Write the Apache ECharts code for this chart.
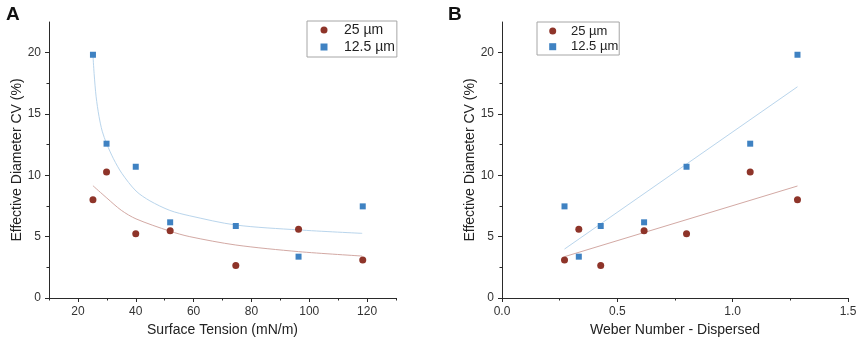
<!DOCTYPE html>
<html>
<head>
<meta charset="utf-8">
<script src="https://cdn.jsdelivr.net/npm/echarts@6/dist/echarts.min.js"></script>
<style>
html,body{margin:0;padding:0;background:#fff;}
#chart{width:858px;height:343px;}
</style>
</head>
<body>
<div id="chart"></div>
<script>
// ---- data ----
var seriesNames = ['25 µm', '12.5 µm'];
var surfaceTension = [25.2, 29.9, 40.0, 51.9, 74.6, 96.3, 118.5];
var weberDispersed = [1.281, 1.076, 0.80, 0.616, 0.428, 0.333, 0.271];
var cv25 = [8.0, 10.27, 5.24, 5.49, 2.64, 5.6, 3.1];
var cv125 = [19.83, 12.58, 10.7, 6.17, 5.87, 3.37, 7.47];

// fitted curves (panel A)
var fitA125X = [25.2, 25.6, 26.3, 27.3, 28.4, 29.9, 32.3, 35.2, 40.1, 44.9, 51.8, 58.7, 74.6, 96.3, 118.3];
var fitA125Y = [19.8, 18.3, 16.4, 14.8, 13.6, 12.6, 11.35, 10.16, 8.72, 7.92, 7.14, 6.7, 5.95, 5.55, 5.27];
var fitA25X = [25.2, 30.0, 35.0, 40.1, 51.8, 58.7, 74.6, 96.3, 118.3];
var fitA25Y = [9.15, 8.15, 7.15, 6.45, 5.45, 5.0, 4.32, 3.78, 3.42];
// fitted lines (panel B)
var fitBX = [0.271, 1.281];
var fitB125Y = [3.99, 17.22];
var fitB25Y = [3.37, 9.13];

// axis ticks / labels
var xALabels = [20, 40, 60, 80, 100, 120];
var yLabels = [0, 5, 10, 15, 20];

var xATitle = 'Surface Tension (mN/m)';
var xBTitle = 'Weber Number - Dispersed';
var yTitle = 'Effective Diameter CV (%)';

function zip(a, b) { return a.map(function (v, i) { return [v, b[i]]; }); }

var FONT = 'Liberation Sans, Arial, sans-serif';
var AX = '#2a2a2a';
var LBL = '#333';
var RED = '#8e3429';
var BLUE = '#3f82c2';
var RED_L = '#d3a9a4';
var BLUE_L = '#b9d5ec';

var nameStyle = { fontFamily: FONT, fontSize: 14, color: '#222' };
var lblStyle = { margin: 8, fontFamily: FONT, fontSize: 12, color: LBL };

function axLine() { return { show: true, onZero: false, lineStyle: { color: AX, width: 1 } }; }

var option = {
  backgroundColor: '#fff',
  animation: false,
  title: [
    { text: 'A', left: 1, top: 0, textStyle: { fontFamily: FONT, fontSize: 19, fontWeight: 'bold', color: '#111' } },
    { text: 'B', left: 443, top: 0, textStyle: { fontFamily: FONT, fontSize: 19, fontWeight: 'bold', color: '#111' } }
  ],
  grid: [
    { left: 49, right: 462, top: 22, bottom: 45, containLabel: false, outerBoundsMode: 'none' },
    { left: 502, right: 10, top: 22, bottom: 45, containLabel: false, outerBoundsMode: 'none' }
  ],
  xAxis: [
    {
      // scale ticks at 10,30,...,130 act as minor ticks; minor ticks at 20,40,... act as major
      type: 'value', gridIndex: 0, min: 10, max: 130, interval: 20, position: 'bottom',
      name: xATitle, nameLocation: 'middle', nameGap: 22, nameTextStyle: nameStyle,
      axisLine: axLine(),
      axisTick: { show: true, inside: false, length: 2.5, lineStyle: { color: AX } },
      minorTick: { show: true, splitNumber: 2, length: 4, lineStyle: { color: AX, width: 1 } },
      axisLabel: Object.assign({ show: true, customValues: xALabels }, lblStyle),
      splitLine: { show: false }, minorSplitLine: { show: false }
    },
    {
      type: 'value', gridIndex: 1, min: 0, max: 1.5, interval: 0.5, position: 'bottom',
      name: xBTitle, nameLocation: 'middle', nameGap: 22, nameTextStyle: nameStyle,
      axisLine: axLine(),
      axisTick: { show: true, inside: false, length: 4, lineStyle: { color: AX } },
      minorTick: { show: true, splitNumber: 2, length: 2.5, lineStyle: { color: AX, width: 1 } },
      axisLabel: Object.assign({ show: true, formatter: function (v) { return v.toFixed(1); } }, lblStyle),
      splitLine: { show: false }, minorSplitLine: { show: false }
    }
  ],
  yAxis: [0, 1].map(function (gi) {
    return {
      type: 'value', gridIndex: gi, min: 0, max: 22.5, interval: 5, position: 'left',
      name: yTitle, nameLocation: 'middle', nameGap: 25, nameRotate: 90, nameTextStyle: nameStyle,
      axisLine: axLine(),
      axisTick: { show: true, inside: false, length: 4, customValues: yLabels, lineStyle: { color: AX } },
      minorTick: { show: true, splitNumber: 2, length: 2.5, lineStyle: { color: AX, width: 1 } },
      axisLabel: Object.assign({ show: true, customValues: yLabels }, lblStyle),
      splitLine: { show: false }, minorSplitLine: { show: false }
    };
  }),
  legend: [
    {
      data: seriesNames, orient: 'vertical', left: 307, top: 21,
      padding: [1.5, 2, 2.5, 13.5], itemGap: 2, itemWidth: 7, itemHeight: 7,
      borderColor: '#a6a6a6', borderWidth: 1, borderRadius: 0,
      selectedMode: false,
      textStyle: { fontFamily: FONT, fontSize: 14, color: '#222', lineHeight: 15, padding: [0, 0, 0, 11.5] }
    },
    {
      data: seriesNames, orient: 'vertical', left: 537, top: 22,
      padding: [2, 1, 1.3, 12.2], itemGap: 1.7, itemWidth: 7, itemHeight: 7,
      borderColor: '#a6a6a6', borderWidth: 1, borderRadius: 0,
      selectedMode: false,
      textStyle: { fontFamily: FONT, fontSize: 13, color: '#222', lineHeight: 14, padding: [0, 0, 0, 9.8] }
    }
  ],
  series: [
    { name: 'fitA125', type: 'line', xAxisIndex: 0, yAxisIndex: 0, data: zip(fitA125X, fitA125Y), smooth: 0.3, showSymbol: false, lineStyle: { color: BLUE_L, width: 1 }, z: 1 },
    { name: 'fitA25', type: 'line', xAxisIndex: 0, yAxisIndex: 0, data: zip(fitA25X, fitA25Y), smooth: 0.3, showSymbol: false, lineStyle: { color: RED_L, width: 1 }, z: 1 },
    { name: 'fitB125', type: 'line', xAxisIndex: 1, yAxisIndex: 1, data: zip(fitBX, fitB125Y), showSymbol: false, lineStyle: { color: BLUE_L, width: 1 }, z: 1 },
    { name: 'fitB25', type: 'line', xAxisIndex: 1, yAxisIndex: 1, data: zip(fitBX, fitB25Y), showSymbol: false, lineStyle: { color: RED_L, width: 1 }, z: 1 },
    { name: seriesNames[0], type: 'scatter', xAxisIndex: 0, yAxisIndex: 0, data: zip(surfaceTension, cv25), symbol: 'circle', symbolSize: 7, itemStyle: { color: RED, opacity: 1 }, z: 3 },
    { name: seriesNames[1], type: 'scatter', xAxisIndex: 0, yAxisIndex: 0, data: zip(surfaceTension, cv125), symbol: 'rect', symbolSize: 6, itemStyle: { color: BLUE, opacity: 1 }, z: 3 },
    { name: seriesNames[0], type: 'scatter', xAxisIndex: 1, yAxisIndex: 1, data: zip(weberDispersed, cv25), symbol: 'circle', symbolSize: 7, itemStyle: { color: RED, opacity: 1 }, z: 3 },
    { name: seriesNames[1], type: 'scatter', xAxisIndex: 1, yAxisIndex: 1, data: zip(weberDispersed, cv125), symbol: 'rect', symbolSize: 6, itemStyle: { color: BLUE, opacity: 1 }, z: 3 }
  ]
};

var chart = echarts.init(document.getElementById('chart'), null, { renderer: 'canvas' });
chart.setOption(option);
</script>
</body>
</html>
